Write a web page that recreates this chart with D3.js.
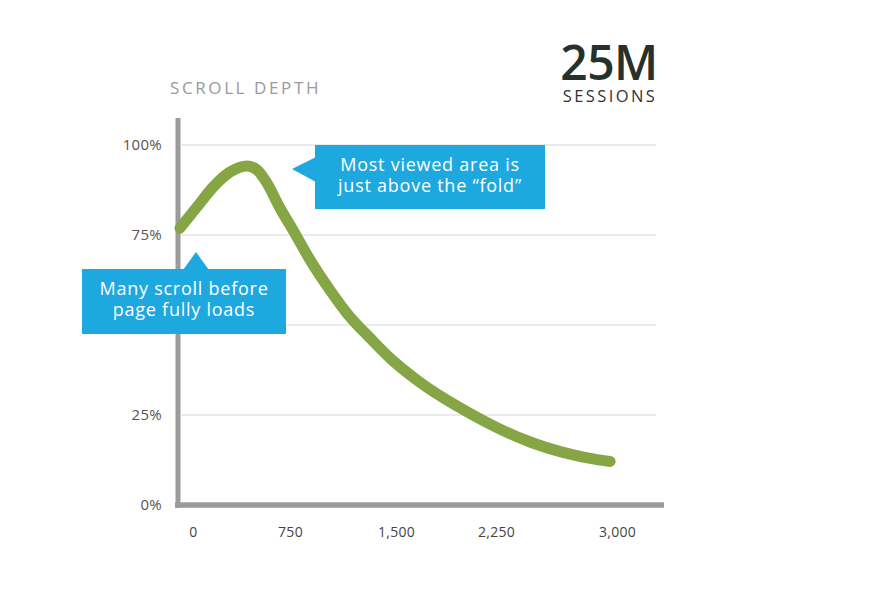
<!DOCTYPE html>
<html><head><meta charset="utf-8">
<script src="https://cdn.jsdelivr.net/npm/d3@7"></script>
<style>
html,body{margin:0;padding:0;background:#fff;}
svg{display:block;font-family:"Open Sans","Noto Sans",sans-serif;}
</style></head>
<body>
<svg id="chart" width="874" height="589"></svg>
<script>
// ---- data ----
const xTicks = [0, 750, 1500, 2250, 3000];
const xTickLabels = ["0", "750", "1,500", "2,250", "3,000"];
const yTicks = [0, 25, 50, 75, 100];
const yTickLabels = ["0%", "25%", "50%", "75%", "100%"];
const depthPx = [15, 147, 271, 402, 534, 611, 688, 785, 877, 998, 1139, 1281, 1422, 1568, 1770, 1965, 2145, 2349, 2554, 2758, 2969, 3050];
const viewedPct = [76.9, 82.8, 88.3, 92.5, 94.2, 93.1, 89.4, 82.5, 76.4, 68.1, 59.7, 52.2, 46.4, 40.8, 34.7, 29.8, 25.9, 21.5, 17.5, 14.6, 12.6, 12.1];
const titleText = "SCROLL DEPTH";
const bigNumber = "25M";
const bigNumberLabel = "SESSIONS";
const calloutPeak = ["Most viewed area is", "just above the \u201cfold\u201d"];
const calloutStart = ["Many scroll before", "page fully loads"];

// ---- layout ----
const svg = d3.select("#chart");
const x = d3.scaleLinear().domain(xTicks).range([178, 275, 381, 481, 602]);
const y = d3.scaleLinear().domain([0, 100]).range([505, 145]);
const axisColor = "#9b9b9e";
const blue = "#1ea8e0";
const green = "#86a544";

// gridlines
svg.append("g").selectAll("line").data(yTicks.filter(d => d > 0)).join("line")
  .attr("x1", 181).attr("x2", 656)
  .attr("y1", d => y(d)).attr("y2", d => y(d))
  .attr("stroke", "#e4e4e6").attr("stroke-width", 1.6);

// y tick labels (50% is hidden behind the callout in the original)
svg.append("g").selectAll("text")
  .data(yTicks.map((d, i) => ({v: d, t: yTickLabels[i]})).filter(d => d.v !== 50))
  .join("text")
  .attr("x", 162).attr("y", d => y(d.v)).attr("dy", "0.36em")
  .attr("text-anchor", "end").attr("font-size", 15).attr("fill", "#555")
  .attr("letter-spacing", 0.3)
  .text(d => d.t);

// x axis via d3.axisBottom (labels only)
const xAxis = d3.axisBottom(x).tickValues(xTicks).tickSize(0)
  .tickFormat((d, i) => xTickLabels[i]);
const gx = svg.append("g").attr("transform", "translate(15,524)").call(xAxis);
gx.select(".domain").remove();
gx.selectAll("text").attr("font-size", 14).attr("fill", "#444")
  .attr("letter-spacing", 0.3)
  .attr("font-family", "'Open Sans','Noto Sans',sans-serif");

// axis lines
svg.append("line").attr("x1", 178).attr("x2", 178).attr("y1", 118).attr("y2", y(0) + 3)
  .attr("stroke", axisColor).attr("stroke-width", 5);
svg.append("line").attr("x1", 175).attr("x2", 664).attr("y1", y(0)).attr("y2", y(0))
  .attr("stroke", axisColor).attr("stroke-width", 5.5);

// curve
const pts = depthPx.map((d, i) => [d, viewedPct[i]]);
const line = d3.line().x(d => x(d[0])).y(d => y(d[1])).curve(d3.curveMonotoneX);
svg.append("path").attr("d", line(pts)).attr("fill", "none")
  .attr("stroke", green).attr("stroke-width", 11)
  .attr("stroke-linecap", "round").attr("stroke-linejoin", "round");

// title
svg.append("text").attr("x", 170).attr("y", 94).attr("font-size", 17)
  .attr("fill", "#9a9a9a").attr("letter-spacing", 2.6).text(titleText);
svg.append("text").attr("x", 609).attr("y", 80).attr("text-anchor", "middle")
  .attr("font-size", 48).attr("font-weight", 600).attr("fill", "#27302a")
  .attr("letter-spacing", -0.5).text(bigNumber);
svg.append("text").attr("x", 610).attr("y", 102).attr("text-anchor", "middle")
  .attr("font-size", 16.5).attr("fill", "#333").attr("letter-spacing", 2.4).text(bigNumberLabel);

// callout near peak
const c1 = svg.append("g");
c1.append("rect").attr("x", 315).attr("y", 145).attr("width", 230).attr("height", 64).attr("fill", blue);
c1.append("path").attr("d", "M292,169 L316,157 L316,182 Z").attr("fill", blue);
c1.selectAll("text").data(calloutPeak).join("text")
  .attr("x", 430).attr("y", (d, i) => 171 + i * 21).attr("text-anchor", "middle")
  .attr("font-size", 18).attr("letter-spacing", 0.75).attr("fill", "#fff").text(d => d);

// callout near start
const c2 = svg.append("g");
c2.append("rect").attr("x", 82).attr("y", 269).attr("width", 204).attr("height", 65).attr("fill", blue);
c2.append("path").attr("d", "M196,252 L183,270 L209,270 Z").attr("fill", blue);
c2.selectAll("text").data(calloutStart).join("text")
  .attr("x", 184).attr("y", (d, i) => 295 + i * 20.5).attr("text-anchor", "middle")
  .attr("font-size", 18).attr("letter-spacing", 0.75).attr("fill", "#fff").text(d => d);
</script>
</body></html>
